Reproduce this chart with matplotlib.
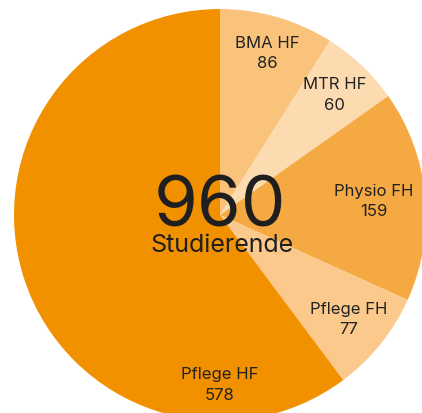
import numpy as np
import matplotlib.pyplot as plt

labels = ['BMA HF', 'MTR HF', 'Physio FH', 'Pflege FH', 'Pflege HF']
values = [86, 60, 159, 77, 578]
colors = ['#F9C37C', '#FCDBB0', '#F5A942', '#FAC98B', '#F29100']
total = sum(values)

plt.rcParams['font.family'] = ['Inter', 'DejaVu Sans']

fig = plt.figure(figsize=(4.22, 4.14), dpi=100)
ax = fig.add_axes([0, 0, 1, 1])
ax.axis('off')

wedges, _ = ax.pie(values, colors=colors, startangle=90, counterclock=False,
                   radius=1, center=(0, 0))

# label placement: mid-angle, a few labels nudged for readability
label_r = [0.82, 0.81, 0.75, 0.80, 0.82]
cum = np.cumsum([0] + values)
for i, (lab, v) in enumerate(zip(labels, values)):
    mid = (cum[i] + cum[i + 1]) / 2 / total * 360
    if lab == 'Pflege HF':
        mid = 180
    ang = np.deg2rad(90 - mid)
    x = label_r[i] * np.cos(ang)
    y = label_r[i] * np.sin(ang)
    ax.text(x, y, f'{lab}\n{v}', ha='center', va='center', fontsize=12,
            color='#222222', linespacing=1.45)

ax.text(0, -0.053, str(total), ha='center', va='baseline', fontsize=51,
        color='#1f1f1f', fontstretch='condensed')
ax.text(0.01, -0.175, 'Studierende', ha='center', va='baseline', fontsize=18,
        color='#1f1f1f')

ax.set_xlim(-220 / 206, 202 / 206)
ax.set_ylim(-198 / 206, 216 / 206)
ax.set_aspect('auto')

fig.savefig('out.png', dpi=100)
